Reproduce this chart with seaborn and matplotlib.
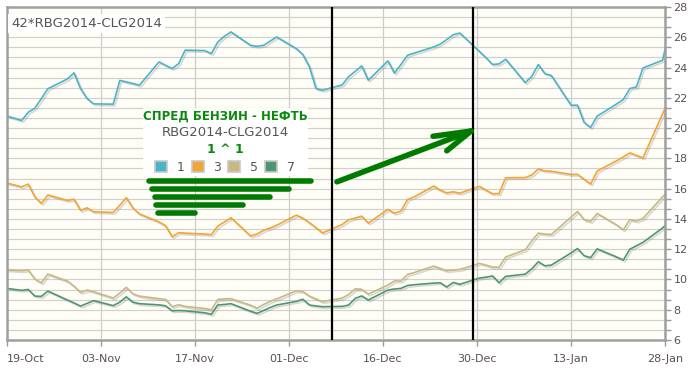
import numpy as np
import pandas as pd
import matplotlib
matplotlib.use("Agg")
import matplotlib.pyplot as plt
import matplotlib.dates as mdates
import matplotlib.patheffects as pe
from matplotlib.patches import Patch, Rectangle
from matplotlib.ticker import MultipleLocator, FixedLocator
import seaborn as sns

# trading days shown on the chart (weekdays 18-Oct-2013 .. 28-Jan-2014)
dates = pd.bdate_range("2013-10-18", "2014-01-28")

spread_1 = [20.9,
            20.5, 21.05, 21.3, 21.95, 22.6,
            23.25, 23.65, 22.6, 21.95, 21.6,
            21.58, 23.15, 23.05, 22.95, 22.83,
            24.37, 24.15, 23.93, 24.26, 25.15,
            25.12, 24.92, 25.69, 26.07, 26.35,
            25.47, 25.4, 25.47, 25.75, 26.02,
            25.25, 24.85, 24.04, 22.61, 22.5,
            22.85, 23.4, 23.75, 24.11, 23.16,
            24.44, 23.63, 24.2, 24.81, 24.95,
            25.36, 25.55, 25.85, 26.17, 26.28,
            25.06, 24.65, 24.2, 24.24, 24.55,
            23.0, 23.42, 24.2, 23.6, 23.47,
            21.51, 21.51, 20.37, 20.04, 20.79,
            21.6, 21.89, 22.61, 22.72, 23.97,
            24.48, 26.4]

spread_3 = [16.45,
            16.12, 16.3, 15.46, 15.02, 15.58,
            15.22, 15.3, 14.56, 14.73, 14.47,
            14.43, 14.9, 15.4, 14.72, 14.33,
            13.8, 13.55, 12.82, 13.09, 13.06,
            13.0, 12.96, 13.53, 13.8, 14.08,
            12.87, 13.0, 13.25, 13.4, 13.58,
            14.25, 14.05, 13.75, 13.42, 13.07,
            13.63, 13.94, 14.06, 14.18, 13.72,
            14.63, 14.37, 14.52, 15.28, 15.45,
            16.17, 15.9, 15.72, 15.79, 15.7,
            16.15, 15.9, 15.66, 15.68, 16.72,
            16.73, 16.9, 17.3, 17.17, 17.15,
            16.94, 16.94, 16.62, 16.3, 17.16,
            17.85, 18.1, 18.36, 18.2, 18.03,
            20.93, 21.93]

spread_5 = [10.65,
            10.57, 10.62, 10.03, 9.78, 10.36,
            9.89, 9.56, 9.14, 9.3, 9.19,
            8.77, 9.1, 9.48, 9.05, 8.9,
            8.73, 8.68, 8.2, 8.33, 8.22,
            8.08, 8.0, 8.68, 8.72, 8.73,
            8.3, 8.1, 8.35, 8.55, 8.72,
            9.25, 9.2, 8.9, 8.72, 8.53,
            8.77, 9.0, 9.38, 9.35, 9.03,
            9.63, 9.9, 9.9, 10.33, 10.45,
            10.88, 10.73, 10.57, 10.62, 10.66,
            11.06, 10.95, 10.82, 10.82, 11.48,
            11.96, 12.55, 13.06, 13.0, 12.97,
            14.12, 14.49, 13.95, 13.83, 14.36,
            13.6, 13.28, 13.95, 13.86, 14.03,
            15.45, 15.87]

spread_7 = [9.45,
            9.28, 9.34, 8.9, 8.88, 9.23,
            8.64, 8.45, 8.24, 8.42, 8.6,
            8.27, 8.5, 8.85, 8.5, 8.4,
            8.32, 8.26, 7.93, 7.95, 7.93,
            7.8, 7.7, 8.31, 8.35, 8.4,
            7.9, 7.76, 7.95, 8.15, 8.31,
            8.55, 8.69, 8.31, 8.25, 8.2,
            8.22, 8.31, 8.75, 8.91, 8.64,
            9.3, 9.37, 9.41, 9.6, 9.65,
            9.76, 9.78, 9.5, 9.8, 9.68,
            10.09, 10.15, 10.23, 9.78, 10.2,
            10.35, 10.7, 11.17, 10.9, 10.95,
            11.75, 12.04, 11.57, 11.44, 12.02,
            11.48, 11.28, 12.0, 12.22, 12.45,
            13.4, 13.8]

series_names = ["1", "3", "5", "7"]
colors = {"1": "#4bb3c8", "3": "#f2a434", "5": "#c8b882", "7": "#4e9672"}
x_labels = ["19-Oct", "03-Nov", "17-Nov", "01-Dec", "16-Dec", "30-Dec", "13-Jan", "28-Jan"]

df = pd.DataFrame({"1": spread_1, "3": spread_3, "5": spread_5, "7": spread_7}, index=dates)
df.index.name = "date"
long_df = df.reset_index().melt(id_vars="date", var_name="series", value_name="value")

START = pd.Timestamp("2013-10-19")


def day(d):
    # day offset from 19-Oct -> matplotlib date number
    return mdates.date2num(START) + d


sns.set_style("white")
fig = plt.figure(figsize=(6.92, 3.75), dpi=100)
ax = fig.add_axes([7 / 692, 35 / 375, 658 / 692, 333 / 375])
ax.set_facecolor("#fffef6")

sns.lineplot(data=long_df, x="date", y="value", hue="series", palette=colors,
             hue_order=series_names, linewidth=1.2, legend=False, ax=ax)
for line in ax.get_lines():
    line.set_path_effects([pe.SimpleLineShadow(offset=(1.2, -1.2), shadow_color="#808080", alpha=0.3),
                           pe.Normal()])

# axes
xmin, xmax = day(-0.25), day(100.37)
ax.set_xlim(xmin, xmax)
ax.set_ylim(6, 28)
ax.xaxis.set_major_locator(FixedLocator(np.linspace(xmin, xmax, 8)))
ax.set_xticklabels(x_labels)
ax.get_xticklabels()[0].set_horizontalalignment("left")
ax.get_xticklabels()[0].set_x(xmin - 0.3)
ax.yaxis.tick_right()
ax.yaxis.set_major_locator(MultipleLocator(2))
ax.yaxis.set_minor_locator(MultipleLocator(2 / 3))
ax.tick_params(axis="both", which="both", direction="out", length=4, width=1, color="#999999",
               labelsize=8, labelcolor="#5a5050")
ax.tick_params(axis="y", which="both", right=True, left=False, pad=2)
ax.tick_params(axis="x", pad=6, bottom=True)
ax.grid(True, which="major", axis="x", color="#cccccc", linewidth=0.9)
ax.grid(True, which="both", axis="y", color="#d0d0d0", linewidth=0.9)
ax.set_axisbelow(True)
ax.set_xlabel("")
ax.set_ylabel("")
for side in ["left", "right", "bottom", "top"]:
    ax.spines[side].set_visible(True)
    ax.spines[side].set_color("#a0a0a0")
    ax.spines[side].set_linewidth(1.8)

# vertical markers
for d in [49.45, 71.0]:
    ax.axvline(day(d), color="black", linewidth=1.6, zorder=5)

# title in the corner
ax.text(0.006, 0.97, "42*RBG2014-CLG2014", transform=ax.transAxes, ha="left", va="top",
        fontsize=9.5, color="#555555",
        bbox=dict(boxstyle="square,pad=0.25", facecolor="white", edgecolor="none"), zorder=6)

# legend block
ax.add_patch(Rectangle(((143 - 7) / 658, (340 - 176) / 333), 165 / 658, 68 / 333,
                       transform=ax.transAxes, facecolor="white", edgecolor="none", zorder=6))
cx = (225 - 7) / 658
ax.text(cx, (340 - 116) / 333, "СПРЕД БЕНЗИН - НЕФТЬ", transform=ax.transAxes, ha="center",
        va="center", fontsize=8.5, fontweight="bold", color="#0a8a0a", zorder=7)
ax.text(cx, (340 - 133) / 333, "RBG2014-CLG2014", transform=ax.transAxes, ha="center",
        va="center", fontsize=9.5, color="#555555", zorder=7)
ax.text(cx, (340 - 149.5) / 333, "1 ^ 1", transform=ax.transAxes, ha="center",
        va="center", fontsize=9, fontweight="bold", color="#0a8a0a", zorder=7)
handles = [Patch(facecolor=colors[s], edgecolor="#c8c8c8", linewidth=1.2) for s in series_names]
leg = ax.legend(handles, series_names, ncol=4, loc="center", bbox_to_anchor=(cx, (340 - 167.5) / 333),
                frameon=False, fontsize=9, handlelength=0.95, handleheight=0.95, handletextpad=0.8,
                columnspacing=0.55, borderpad=0, labelcolor="#555555")
leg.set_zorder(8)

# hand-drawn green marks
green = "#007a00"
strokes = [(21.4, 46.2, 16.5), (21.9, 42.8, 15.99), (22.4, 39.9, 15.46),
           (22.5, 35.9, 14.89), (22.9, 28.5, 14.42)]
for d0, d1, v in strokes:
    ax.plot([day(d0), day(d1)], [v, v], color=green, linewidth=4, solid_capstyle="round", zorder=9)
tip = (day(70.7), 19.8)
for d0, v0 in [(50.2, 16.45), (64.9, 19.46), (67.0, 18.5)]:
    ax.plot([day(d0), tip[0]], [v0, tip[1]], color=green, linewidth=4, solid_capstyle="round", zorder=9)

fig.savefig("out.png", dpi=100, facecolor="white")
